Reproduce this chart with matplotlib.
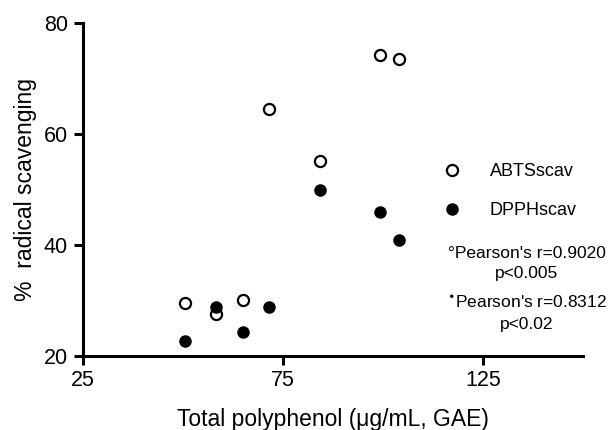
import numpy as np
import matplotlib
matplotlib.use("Agg")
import matplotlib.pyplot as plt

plt.rcParams['font.family'] = ['Liberation Sans', 'DejaVu Sans']

# total polyphenol (ug/mL GAE), shared by both assays
polyphenol = [50.6, 58.3, 65.0, 71.6, 84.2, 99.2, 104.0]
abts_scav = [29.6, 27.6, 30.0, 64.5, 55.1, 74.3, 73.5]
dpph_scav = [22.6, 28.8, 24.2, 28.8, 49.9, 45.9, 40.8]

x_ticks = [25, 75, 125]
y_ticks = [20, 40, 60, 80]

fig = plt.figure(figsize=(6.11, 4.30), dpi=100)
ax = fig.add_axes([0.1353, 0.1728, 0.8189, 0.7730])

ax.plot(polyphenol, abts_scav, 'o', ms=8, mfc='white', mec='black', mew=1.6,
        label='ABTSscav', clip_on=False)
ax.plot(polyphenol, dpph_scav, 'o', ms=8, mfc='black', mec='black', mew=1.0,
        label='DPPHscav', clip_on=False)

ax.set_xlim(25, 150)
ax.set_ylim(20, 80)
ax.set_xticks(x_ticks)
ax.set_yticks(y_ticks)

for s in ['top', 'right']:
    ax.spines[s].set_visible(False)
for s in ['left', 'bottom']:
    ax.spines[s].set_linewidth(2.2)
ax.tick_params(direction='out', length=6.5, width=2.2, labelsize=15.5, pad=4)

ax.set_xlabel(u"Total polyphenol (\u03bcg/mL, GAE)", fontsize=16.5, labelpad=12)
ax.set_ylabel("%  radical scavenging", fontsize=16.5, labelpad=5)

ax.legend(loc='upper left', bbox_to_anchor=(0.720, 0.580), frameon=False,
          fontsize=13, borderpad=0, borderaxespad=0, handlelength=1.0,
          handletextpad=1.6, labelspacing=1.25, numpoints=1)

ax.text(0.888, 0.278, u"\u00b0Pearson's r=0.9020\np<0.005", transform=ax.transAxes,
        ha='center', va='center', fontsize=12.5, linespacing=1.4)
ax.text(0.888, 0.128, "$^{\\bullet}$Pearson's r=0.8312\np<0.02", transform=ax.transAxes,
        ha='center', va='center', fontsize=12.5, linespacing=1.45)

fig.savefig("out.png", dpi=100)
